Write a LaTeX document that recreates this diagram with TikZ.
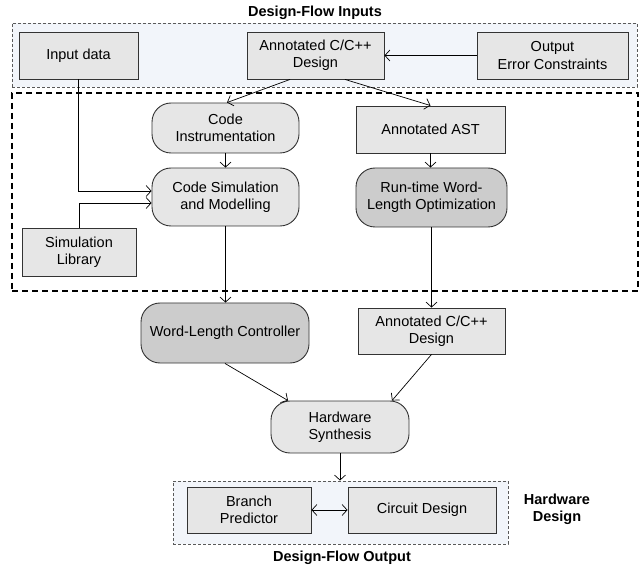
\documentclass[tikz,border=0pt]{standalone}
\usepackage{fontspec}
\setmainfont{Liberation Sans}
\usetikzlibrary{arrows.meta}
\definecolor{boxfill}{HTML}{E6E6E6}
\definecolor{darkfill}{HTML}{CCCCCC}
\definecolor{groupfill}{HTML}{F2F5FA}
\definecolor{edgegray}{HTML}{333333}
\tikzset{
  base/.style={draw=edgegray, line width=0.9pt, align=center, inner sep=0pt,
    font=\fontsize{14.5}{17.3}\selectfont},
  plainbox/.style={base, rectangle, fill=boxfill},
  roundbox/.style={base, rectangle, rounded corners=19pt, fill=boxfill},
  darkround/.style={roundbox, fill=darkfill},
  groupbox/.style={draw=black!65, dash pattern=on 3pt off 2pt, line width=0.9pt,
    fill=groupfill, inner sep=0pt},
  stagebox/.style={draw=black, dash pattern=on 6pt off 4pt, line width=1.6pt, inner sep=0pt},
  heading/.style={font=\fontsize{14.5}{17.3}\selectfont\bfseries, align=center, inner sep=0pt},
  flow/.style={draw=black, line width=0.7pt, -{Straight Barb[length=5pt,width=11pt]}},
  bothflow/.style={draw=black, line width=0.7pt, {Straight Barb[length=5pt,width=11pt]}-{Straight Barb[length=5pt,width=11pt]}},
}
\begin{document}
\begin{tikzpicture}[x=1pt, y=-1pt]
  \useasboundingbox (0,0) rectangle (640,569);

  % group frames
  \node[groupbox, minimum width=625pt, minimum height=64pt] (inBox) at (324.5,55) {};
  \node[stagebox, minimum width=626pt, minimum height=198pt] (stageBox) at (325,192) {};
  \node[groupbox, minimum width=335pt, minimum height=63pt] (outBox) at (340.5,512.5) {};

  % headings
  \node[heading] (inTitle) at (315,13) {Design-Flow Inputs};
  \node[heading] (outTitle) at (342,558) {Design-Flow Output};
  \node[heading] (hwTitle) at (557,509) {Hardware\\Design};

  % inputs
  \node[plainbox, minimum width=119pt, minimum height=47pt] (inData) at (78.5,55.5) {Input data};
  \node[plainbox, minimum width=137pt, minimum height=47pt] (annIn) at (315.5,55.5) {Annotated C/C++\\Design};
  \node[plainbox, minimum width=151pt, minimum height=47pt] (outErr) at (552.5,55.5) {Output\\Error Constraints};

  % analysis stage
  \node[roundbox, minimum width=147pt, minimum height=50pt] (codeInst) at (225.5,128) {Code\\Instrumentation};
  \node[plainbox, minimum width=149pt, minimum height=47pt] (annAST) at (430.5,129.5) {Annotated AST};
  \node[roundbox, minimum width=147pt, minimum height=58pt] (codeSim) at (225.5,197) {Code Simulation\\and Modelling};
  \node[darkround, minimum width=151pt, minimum height=59pt] (runOpt) at (431.5,197.5) {Run-time Word-\\Length Optimization};
  \node[plainbox, minimum width=114pt, minimum height=48pt] (simLib) at (79,252) {Simulation\\Library};

  % synthesis
  \node[darkround, minimum width=168pt, minimum height=60pt] (wlc) at (225,333) {Word-Length Controller};
  \node[plainbox, minimum width=147pt, minimum height=46pt] (annOut) at (431.5,331) {Annotated C/C++\\Design};
  \node[roundbox, minimum width=138pt, minimum height=52pt] (hwSyn) at (340,427) {Hardware\\Synthesis};

  % outputs
  \node[plainbox, minimum width=124pt, minimum height=46pt] (branch) at (249,510) {Branch\\Predictor};
  \node[plainbox, minimum width=148pt, minimum height=46pt] (circuit) at (422,510) {Circuit Design};

  % connectors
  \draw[flow] (outErr.west) -- (annIn.east);
  \draw[flow] ([xshift=-25.5pt]annIn.south) -- ([xshift=1.5pt]codeInst.north);
  \draw[flow] ([xshift=29.5pt]annIn.south) -- (annAST.north);
  \draw[flow] (inData.south) |- ([yshift=6pt]codeSim.west);
  \draw[flow] (simLib.north) |- ([yshift=-6pt]codeSim.west);
  \draw[flow] (codeInst.south) -- (codeSim.north);
  \draw[flow] (annAST.south) -- (annAST.south |- runOpt.north);
  \draw[flow] (codeSim.south) -- (codeSim.south |- wlc.north);
  \draw[flow] (runOpt.south) -- (runOpt.south |- annOut.north);
  \draw[flow] (wlc.south) -- ([xshift=-52pt]hwSyn.north);
  \draw[flow] (annOut.south) -- ([xshift=52pt]hwSyn.north);
  \draw[flow] (hwSyn.south) -- (hwSyn.south |- outBox.north);
  \draw[bothflow] (branch.east) -- (circuit.west);
\end{tikzpicture}
\end{document}
